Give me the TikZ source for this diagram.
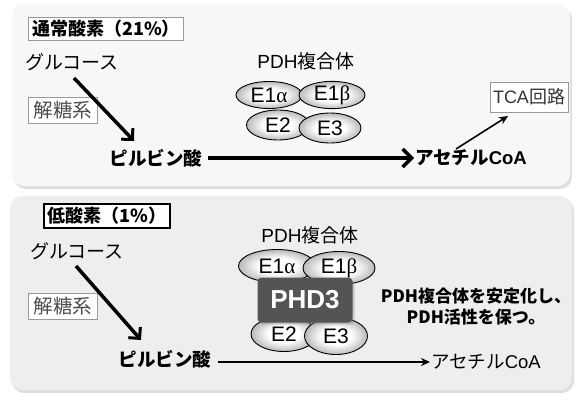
\documentclass[tikz,border=0pt]{standalone}
\usepackage{fontspec}
\setmainfont{Noto Sans CJK JP}
\newfontfamily\arl{Liberation Sans}
\newfontfamily\grk{Liberation Serif}
\usetikzlibrary{arrows.meta,shadows,shapes.geometric}
\pgfdeclareradialshading{enzshade}{\pgfpoint{0bp}{0bp}}{color(0bp)=(white); color(12bp)=(white); color(24bp)=(black!25); color(33bp)=(black!45); color(50bp)=(black!50)}
\tikzset{
  panelbox/.style={rounded corners=12pt, drop shadow={shadow xshift=2pt, shadow yshift=-3pt, opacity=0.25}},
  titlebox/.style={draw=gray!80, line width=0.8pt, fill=white, inner xsep=4pt, inner ysep=3pt, font=\bfseries\fontsize{18}{18}\selectfont},
  labelbox/.style={draw=gray!80, line width=0.8pt, fill=white, inner xsep=5pt, inner ysep=1pt, minimum height=26pt, text=black!70, font=\fontsize{19.5}{19.5}\selectfont},
  plain/.style={font=\fontsize{19}{19}\selectfont, inner sep=1pt},
  boldtxt/.style={font=\bfseries\fontsize{18.5}{18.5}\selectfont, inner sep=1pt},
  enz/.style={ellipse, draw=black, line width=0.9pt, shading=enzshade, inner sep=0pt, font=\arl\fontsize{21}{21}\selectfont},
  thickarrow/.style={line width=4.5pt, -{Straight Barb[length=9pt, width=18pt, line width=3.5pt]}},
  diagarrow/.style={line width=3.5pt, -{Straight Barb[length=8pt, width=16pt, line width=3pt]}},
  thinarrow/.style={line width=1.6pt, -{Stealth[length=9pt, width=8pt]}},
}
\begin{document}
\begin{tikzpicture}[x=1pt, y=-1pt]
\useasboundingbox (0,0) rectangle (579,396);
\fill[white] (0,0) rectangle (579,396);
% panels
\fill[panelbox, fill=gray!6] (12,4) rectangle (570,186);
\fill[panelbox, fill=gray!13] (10,196) rectangle (572,390);

% ---------- top panel ----------
\node[titlebox] (t1) at (106,29) {通常酸素（21\%）};
\node[plain] (g1) at (72,62) {グルコース};
\node[labelbox] (k1) at (63,110) {解糖系};
\node[boldtxt] (p1) at (156,158) {ピルビン酸};
\node[boldtxt, anchor=west] (a1) at (414,158) {アセチル{\arl\bfseries CoA}};
\node[labelbox, text=black!80, font=\fontsize{18}{18}\selectfont, minimum height=30pt, inner xsep=3pt] (tca) at (529,97) {{\arl TCA}回路};
\node[plain] (pdh1) at (306,61) {{\arl PDH}複合体};
\node[enz, minimum width=66pt, minimum height=27pt] (e1a) at (269,95) {E1{\grk α}};
\node[enz, minimum width=66pt, minimum height=27pt] (e1b) at (332,95) {E1{\grk β}};
\node[enz, minimum width=63pt, minimum height=30pt] (e2) at (278,125) {E2};
\node[enz, minimum width=62pt, minimum height=30pt] (e3) at (330,128) {E3};

\coordinate (g1s) at (74,78);
\coordinate (p1n) at (134,141);
\draw[diagarrow] (g1s) -- (p1n);
\draw[thickarrow] (p1.east) ++(5,0) coordinate (p1e) -- (a1.west);
\coordinate (a1n) at (456,149);
\coordinate (tcas) at (508,116);
\draw[thinarrow] (a1n) -- (tcas);

% ---------- bottom panel ----------
\node[titlebox, draw=black, line width=2pt] (t2) at (107,216) {低酸素（1\%）};
\node[plain] (g2) at (77,251) {グルコース};
\node[labelbox] (k2) at (63,306) {解糖系};
\node[boldtxt] (p2) at (165,359) {ピルビン酸};
\node[plain, font=\fontsize{18.5}{18.5}\selectfont, anchor=west] (a2) at (430,362) {アセチル{\arl CoA}};
\node[plain] (pdh2) at (310,235) {{\arl PDH}複合体};
\node[enz, minimum width=77pt, minimum height=33pt] (f1a) at (277,266) {E1{\grk α}};
\node[enz, minimum width=72pt, minimum height=33pt] (f1b) at (339,268) {E1{\grk β}};
\node[enz, minimum width=66pt, minimum height=35pt] (f2) at (284,334) {E2};
\node[enz, minimum width=63pt, minimum height=37pt] (f3) at (336,336) {E3};
\node[fill=black!67, rounded corners=4pt, minimum width=95pt, minimum height=45pt, text=white,
      font=\arl\bfseries\fontsize{26}{26}\selectfont,
      drop shadow={shadow xshift=2pt, shadow yshift=-2pt, opacity=0.35}] (phd3) at (305,300) {PHD3};
\node[font=\bfseries\fontsize{17}{21}\selectfont, align=center] (note) at (476,307) {PDH複合体を安定化し、\\PDH活性を保つ。};

\coordinate (g2s) at (76,266);
\coordinate (p2n) at (141,340);
\draw[diagarrow] (g2s) -- (p2n);
\draw[thinarrow] (p2.east |- a2.west) ++(6,0) coordinate (p2e) -- (a2.west);
\end{tikzpicture}
\end{document}
